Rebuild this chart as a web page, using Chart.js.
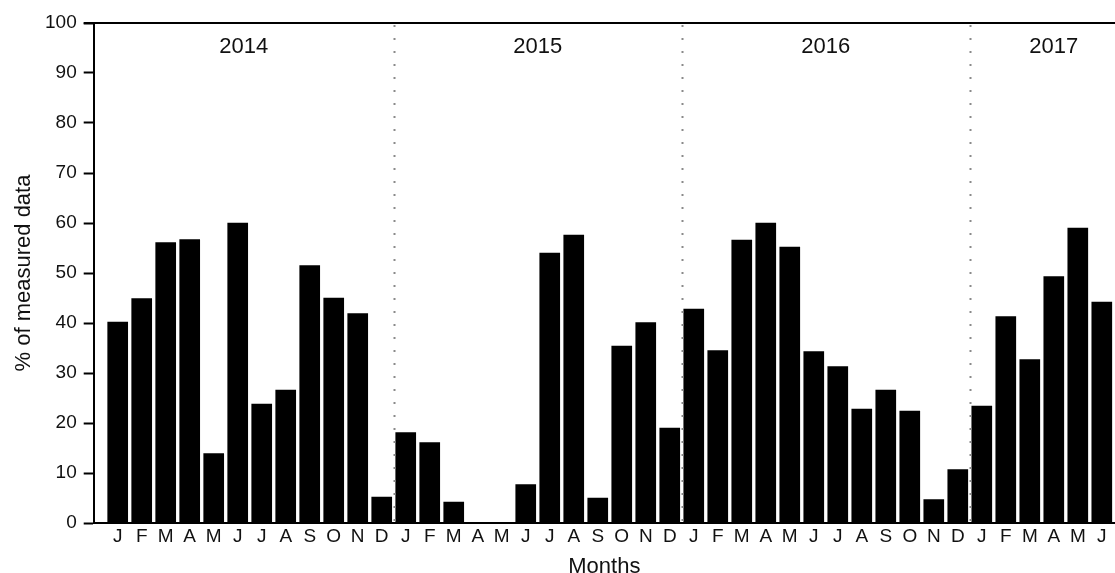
<!DOCTYPE html>
<html>
<head>
<meta charset="utf-8">
<title>Measured data per month</title>
<script src="https://cdn.jsdelivr.net/npm/chart.js@4/dist/chart.umd.min.js"></script>
<style>
    html, body { margin: 0; padding: 0; background: #fff; }
    #wrap { width: 1115px; height: 573px; position: relative; }
</style>
</head>
<body>
<div id="wrap"><canvas id="chart"></canvas></div>
<script>
    // Month letters, Jan 2014 .. Jun 2017
    const monthLetters = ['J', 'F', 'M', 'A', 'M', 'J', 'J', 'A', 'S', 'O', 'N', 'D'];
    const years = ['2014', '2015', '2016', '2017'];
    const monthsPerYear = [12, 12, 12, 6];

    // % of measured data, one array per year
    const values2014 = [40.2, 44.9, 56.1, 56.7, 13.9, 60.0, 23.8, 26.6, 51.5, 45.0, 41.9, 5.2];
    const values2015 = [18.1, 16.1, 4.2, 0, 0, 7.7, 54.0, 57.6, 5.0, 35.4, 40.1, 19.0];
    const values2016 = [42.8, 34.5, 56.6, 60.0, 55.2, 34.3, 31.3, 22.8, 26.6, 22.4, 4.7, 10.7];
    const values2017 = [23.4, 41.3, 32.7, 49.3, 59.0, 44.2];

    const yTicks = [0, 10, 20, 30, 40, 50, 60, 70, 80, 90, 100];

    const allValues = [].concat(values2014, values2015, values2016, values2017);
    const labels = allValues.map((v, i) => monthLetters[i % 12]);

    const FONT = "'Liberation Sans', Arial, sans-serif";

    // dotted year separators, top frame line and year labels
    const yearDecor = {
        id: 'yearDecor',
        afterDatasetsDraw(chart) {
            const ctx = chart.ctx;
            const area = chart.chartArea;
            const x = chart.scales.x;
            ctx.save();

            // top frame line
            ctx.strokeStyle = '#000';
            ctx.lineWidth = 2;
            ctx.beginPath();
            ctx.moveTo(area.left - 10, area.top);
            ctx.lineTo(chart.width, area.top);
            ctx.stroke();

            let start = 0;
            ctx.font = '22px ' + FONT;
            ctx.fillStyle = '#111';
            ctx.textAlign = 'center';
            ctx.textBaseline = 'middle';
            years.forEach((yr, k) => {
                const n = monthsPerYear[k];
                // label sits midway between the year's separators
                const lo = k === 0 ? x.min : start - 0.5;
                const hi = k === years.length - 1 ? start + n + 0.5 : start + n - 0.5;
                ctx.fillText(yr, x.getPixelForValue((lo + hi) / 2), area.top + 24);
                if (k > 0) {
                    const px = Math.round(x.getPixelForValue(start - 0.5)) + 0.5;
                    ctx.strokeStyle = '#8a8a8a';
                    ctx.lineWidth = 2;
                    ctx.setLineDash([2, 11]);
                    ctx.beginPath();
                    ctx.moveTo(px, area.top + 2);
                    ctx.lineTo(px, area.bottom);
                    ctx.stroke();
                    ctx.setLineDash([]);
                }
                start += n;
            });
            ctx.restore();
        }
    };

    document.addEventListener('DOMContentLoaded', function() {
        const ctx = document.getElementById('chart').getContext('2d');
        new Chart(ctx, {
            type: 'bar',
            data: {
                datasets: [{
                    label: '% of measured data',
                    data: allValues.map((v, i) => ({ x: i, y: v })),
                    backgroundColor: '#000',
                    borderWidth: 0,
                    barThickness: 20
                }]
            },
            options: {
                responsive: true,
                maintainAspectRatio: false,
                animation: false,
                layout: {
                    padding: { left: 13, top: 23, right: 0, bottom: -5 }
                },
                plugins: {
                    legend: { display: false },
                    tooltip: { enabled: false }
                },
                scales: {
                    x: {
                        type: 'linear',
                        offset: false,
                        min: -1,
                        max: 41.55,
                        grid: { display: false, drawTicks: false },
                        border: { display: true, color: '#000', width: 2 },
                        ticks: {
                            stepSize: 1,
                            autoSkip: false,
                            maxRotation: 0,
                            includeBounds: false,
                            padding: 4,
                            color: '#111',
                            font: { family: FONT, size: 19, lineHeight: 1 },
                            callback: function(value) {
                                return Number.isInteger(value) && value >= 0 && value < labels.length ? labels[value] : '';
                            }
                        },
                        title: {
                            display: true,
                            text: 'Months',
                            color: '#111',
                            font: { family: FONT, size: 22, lineHeight: 1 },
                            padding: { top: 6, bottom: 0 }
                        }
                    },
                    y: {
                        min: 0,
                        max: 100,
                        afterBuildTicks: function(scale) {
                            scale.ticks = yTicks.map(v => ({ value: v }));
                        },
                        grid: {
                            drawOnChartArea: false,
                            drawTicks: true,
                            tickLength: 10,
                            tickWidth: 2,
                            tickColor: '#000'
                        },
                        border: { display: true, color: '#000', width: 2 },
                        ticks: {
                            padding: 7,
                            color: '#111',
                            font: { family: FONT, size: 19 }
                        },
                        title: {
                            display: true,
                            text: '% of measured data',
                            color: '#111',
                            font: { family: FONT, size: 22, lineHeight: 1 },
                            padding: { top: 0, bottom: 3 }
                        }
                    }
                }
            },
            plugins: [yearDecor]
        });
    });
</script>
</body>
</html>
